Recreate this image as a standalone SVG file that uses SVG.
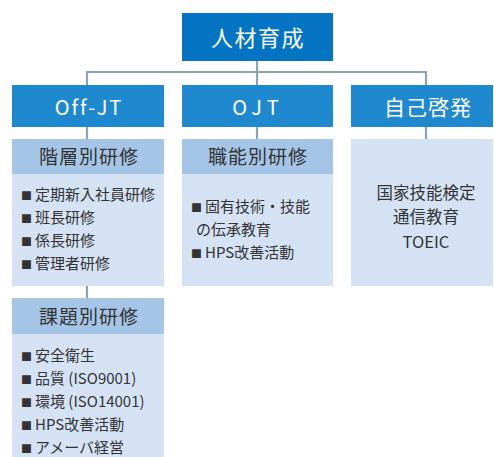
<svg xmlns="http://www.w3.org/2000/svg" width="494" height="457" viewBox="0 0 494 457">
<style>
text{font-family:"Noto Sans CJK JP","Noto Sans",sans-serif;}
.top{fill:#0575c3;}
.l2{fill:#1f89cf;}
.hd{fill:#a5c5e7;}
.bd{fill:#d5e2f4;}
.wt{fill:#ffffff;text-anchor:middle;}
.ht{fill:#333333;font-size:19px;text-anchor:middle;letter-spacing:1px;}
.it{fill:#333333;font-size:15px;}
.sq{font-size:11px;}
.ct{fill:#333333;font-size:16.5px;text-anchor:middle;}
.cn{stroke:#8aa4b6;stroke-width:2.2;fill:none;}
</style>
<rect width="494" height="457" fill="#ffffff"/>
<g id="connectors">
<path class="cn" d="M257 61V85M87 85V72H426V85M87 127V139M257 127V139M426 127V139M87 286V298"/>
</g>
<g id="n-jinzai">
<rect class="top" x="182" y="13" width="151" height="48"/>
<text class="wt" x="258" y="46" font-size="22" letter-spacing="1.5">人材育成</text>
</g>
<g id="n-offjt">
<rect class="l2" x="12" y="85" width="152" height="42"/>
<text class="wt" x="89" y="115" font-size="20" letter-spacing="2">Off-JT</text>
</g>
<g id="n-ojt">
<rect class="l2" x="182" y="85" width="151" height="42"/>
<text class="wt" x="258" y="115" font-size="20" letter-spacing="5">OJT</text>
</g>
<g id="n-jiko">
<rect class="l2" x="351" y="85" width="142" height="42"/>
<text class="wt" x="428" y="115" font-size="21" letter-spacing="1">自己啓発</text>
</g>
<g id="n-kaiso">
<rect class="hd" x="12" y="139" width="152" height="35"/>
<rect class="bd" x="12" y="174" width="152" height="112"/>
<text class="ht" x="89" y="164">階層別研修</text>
<text class="it" x="21" y="200"><tspan class="sq">■</tspan><tspan dx="3">定期新入社員研修</tspan></text>
<text class="it" x="21" y="223"><tspan class="sq">■</tspan><tspan dx="3">班長研修</tspan></text>
<text class="it" x="21" y="246"><tspan class="sq">■</tspan><tspan dx="3">係長研修</tspan></text>
<text class="it" x="21" y="269"><tspan class="sq">■</tspan><tspan dx="3">管理者研修</tspan></text>
</g>
<g id="n-kadai">
<rect class="hd" x="12" y="298" width="152" height="36"/>
<rect class="bd" x="12" y="334" width="152" height="123"/>
<text class="ht" x="89" y="324">課題別研修</text>
<text class="it" x="21" y="361"><tspan class="sq">■</tspan><tspan dx="3">安全衛生</tspan></text>
<text class="it" x="21" y="384"><tspan class="sq">■</tspan><tspan dx="3">品質 (ISO9001)</tspan></text>
<text class="it" x="21" y="407"><tspan class="sq">■</tspan><tspan dx="3">環境 (ISO14001)</tspan></text>
<text class="it" x="21" y="430"><tspan class="sq">■</tspan><tspan dx="3">HPS改善活動</tspan></text>
<text class="it" x="21" y="453"><tspan class="sq">■</tspan><tspan dx="3">アメーバ経営</tspan></text>
</g>
<g id="n-shokuno">
<rect class="hd" x="182" y="139" width="151" height="35"/>
<rect class="bd" x="182" y="174" width="151" height="112"/>
<text class="ht" x="258" y="164">職能別研修</text>
<text class="it" x="191" y="212"><tspan class="sq">■</tspan><tspan dx="3">固有技術・技能</tspan></text>
<text class="it" x="196" y="235">の伝承教育</text>
<text class="it" x="191" y="258"><tspan class="sq">■</tspan><tspan dx="3">HPS改善活動</tspan></text>
</g>
<g id="n-jikobody">
<rect class="bd" x="351" y="139" width="142" height="147"/>
<text class="ct" x="426" y="199">国家技能検定</text>
<text class="ct" x="426" y="223">通信教育</text>
<text class="ct" x="426" y="248">TOEIC</text>
</g>
</svg>
